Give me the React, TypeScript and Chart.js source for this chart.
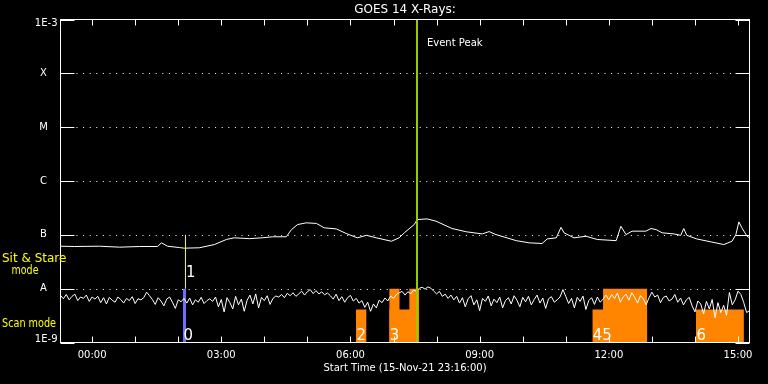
import { useEffect, useRef } from "react";
import { Chart, registerables } from "chart.js";

Chart.register(...registerables);

// ---------- text ----------
const TITLE = "GOES 14 X-Rays:";
const X_TITLE = "Start Time (15-Nov-21 23:16:00)";
const PEAK_LABEL = "Event Peak";
const MODE_UPPER = ["Sit & Stare", "mode"];
const MODE_LOWER = "Scan mode";

// ---------- axes (hours relative to 16-Nov 00:00) ----------
const X_MIN = -44 / 60; // 23:16
const X_MAX = 15 + 16 / 60; // 15:16
const X_LABEL_HOURS = [0, 3, 6, 9, 12, 15];
const X_LABELS = ["00:00", "03:00", "06:00", "09:00", "12:00", "15:00"];
const X_MINOR_HOURS = [0, 1, 2, 3, 4, 5, 6, 7, 8, 9, 10, 11, 12, 13, 14, 15];
const Y_MIN = 1e-9;
const Y_MAX = 1e-3;
const Y_TICK_VALUES = [1e-3, 1e-4, 1e-5, 1e-6, 1e-7, 1e-8, 1e-9];
const Y_TICK_LABELS = ["1E-3", "X", "M", "C", "B", "A", "1E-9"];
const Y_GRID_VALUES = [1e-4, 1e-5, 1e-6, 1e-7, 1e-8];

// ---------- long channel (1-8 A) ----------
const UPPER_T = [-0.733, -0.41, 0.17, 0.64, 1.1, 1.52, 1.61, 1.75, 2.03, 2.14, 2.49, 2.84, 3.12, 3.3, 3.65, 3.95, 4.19, 4.51, 4.63, 4.77, 4.97, 5.21, 5.39, 5.67, 5.9, 6.16, 6.37, 6.6, 6.95, 7.13, 7.25, 7.48, 7.55, 7.78, 7.99, 8.36, 8.69, 9.06, 9.22, 9.38, 9.85, 10.15, 10.45, 10.57, 10.78, 10.89, 10.96, 11.19, 11.47, 11.73, 12.17, 12.28, 12.4, 12.54, 12.86, 12.98, 13.1, 13.24, 13.51, 13.67, 13.74, 13.81, 14.04, 14.37, 14.67, 14.86, 14.95, 15.02, 15.09, 15.21, 15.27];
const UPPER_FLUX = [6.15e-8, 6.07e-8, 6.15e-8, 5.9e-8, 6.07e-8, 6.07e-8, 7.1e-8, 6.15e-8, 5.8e-8, 5.65e-8, 5.75e-8, 6.6e-8, 8.2e-8, 8.8e-8, 8.5e-8, 8.8e-8, 9.2e-8, 9.2e-8, 1.25e-7, 1.55e-7, 1.67e-7, 1.63e-7, 1.35e-7, 1.29e-7, 1.06e-7, 8.8e-8, 9.8e-8, 8.8e-8, 7.6e-8, 8.8e-8, 1.09e-7, 1.55e-7, 1.92e-7, 1.98e-7, 1.79e-7, 1.31e-7, 1.14e-7, 1.04e-7, 1.15e-7, 1.01e-7, 7.8e-8, 7.1e-8, 6.9e-8, 8.4e-8, 8.8e-8, 1.38e-7, 1.09e-7, 8.8e-8, 9.4e-8, 8.2e-8, 7.8e-8, 1.44e-7, 1.01e-7, 1.17e-7, 1.17e-7, 1.31e-7, 1.25e-7, 1.09e-7, 1.04e-7, 9.8e-8, 1.31e-7, 9.8e-8, 8.4e-8, 7.4e-8, 6.6e-8, 7.6e-8, 1.01e-7, 1.74e-7, 1.35e-7, 9.4e-8, 8.8e-8];

// ---------- short channel (0.5-4 A), 4-minute samples, units of 1e-9 W/m^2 ----------
const LOW_START_HOUR = -44 / 60;
const LOW_STEP_MIN = 4;
const LOW_FLUX_E9 = [
  7.5, 6.5, 7.8, 6.2, 7.2, 7.9, 6.0, 7.0, 6.6, 7.6, 5.8, 7.0,
  6.4, 7.2, 5.5, 6.8, 5.2, 6.9, 6.1, 5.6, 7.0, 6.3, 5.4, 6.6, 6.0, 7.1, 5.3, 6.5, 6.2,
  6.8, 8.6, 7.4,
  6.3, 5.1, 6.8, 5.9, 4.8, 6.4, 7.0, 5.6, 4.3, 6.2, 5.7, 6.6,
  5.4, 6.7, 5.0, 6.2, 5.6, 6.9, 5.3, 6.0, 6.5, 5.8,
  7.0, 4.6, 6.3, 3.7, 6.8, 5.5, 4.2, 7.2, 5.0, 6.4, 3.8, 6.1,
  7.6, 5.2, 8.0, 4.4, 6.9, 6.0, 7.4, 5.1, 6.6, 7.3,
  7.0, 7.8, 6.8, 8.2, 7.4, 8.4, 7.2, 8.0, 9.0, 7.6, 8.8, 9.6, 8.1, 9.2, 8.0, 8.7, 7.7, 8.3,
  7.4, 6.4, 7.9, 6.0, 7.1, 5.6, 6.8, 7.5, 5.9, 6.6, 5.4,
  6.0, 4.5, 5.6, 3.8, 5.2, 4.4, 6.1,
  5.5, 6.7, 5.9, 7.3, 6.6, 7.8, 8.4, 8.9,
  7.6, 8.8, 8.0, 9.4, 9.0,
  10.2, 10.6, 9.8, 10.8, 10.2,
  9.0, 8.0, 8.9, 7.2, 7.9, 6.6, 7.6, 6.2,
  7.2, 5.4, 6.8, 4.6, 6.5, 7.4, 5.0, 6.2, 3.9, 6.6, 5.8, 7.3, 4.8, 6.4, 5.5, 7.0, 4.4, 6.0,
  6.8, 5.2, 7.4, 6.1, 4.6, 6.9, 5.7, 7.2, 5.0, 6.3, 7.6, 5.4, 6.7, 4.3, 6.5, 7.1, 5.6, 6.2, 7.0, 9.6,
  7.2, 5.3, 6.6, 4.4, 6.9, 5.8, 7.3, 4.1, 6.0, 6.8, 5.1, 7.0, 5.6, 6.4, 7.6,
  6.2, 7.8, 6.6, 8.3, 5.6, 7.0, 7.9, 6.1, 8.4, 6.9, 5.4, 7.4, 6.5, 5.0, 6.8,
  8.6, 7.0, 7.6, 5.5, 6.9, 7.3, 5.9, 6.4, 7.8, 5.6, 6.7, 5.0, 6.2, 6.9, 4.8, 3.7, 5.9,
  5.2, 3.4, 5.8, 4.2, 6.3, 2.9, 5.5, 3.6, 4.9, 3.2,
  8.5, 5.0, 6.2,
  9.0, 7.8,
  5.5, 3.6, 3.9,
];

// ---------- observation boxes (scan mode, drawn up from 1E-9) ----------
const BOX_START = [2.111, 6.128, 6.9, 11.617, 14.023, 6.9, 7.364, 11.865];
const BOX_END = [2.181, 6.374, 7.596, 12.893, 15.137, 7.144, 7.596, 12.893];
const BOX_TOP = [1e-8, 4.1e-9, 4.1e-9, 4.1e-9, 4.1e-9, 1e-8, 1e-8, 1e-8];
const BOX_COLOR = ["#6e6eff", "#ff8400", "#ff8400", "#ff8400", "#ff8400", "#ff8400", "#ff8400", "#ff8400"];

// sit & stare marker
const SS_T = [2.169];
const SS_LOW = 1e-8;
const SS_HIGH = 1e-7;

// observation numbers
const OBS_LABELS = ["0", "1", "2", "3", "45", "6"];
const OBS_LABEL_T = [2.111, 2.169, 6.128, 6.9, 11.617, 14.023];
const OBS_LABEL_Y = [1.1e-9, 1.65e-8, 1.1e-9, 1.1e-9, 1.1e-9, 1.1e-9];

// event peak
const PEAK_T = 7.545;

const FONT = "'DejaVu Sans', sans-serif";

export default function App() {
  const ref = useRef<HTMLCanvasElement | null>(null);

  useEffect(() => {
    document.body.style.margin = "0";
    document.body.style.background = "#000";
    const canvas = ref.current;
    if (!canvas) return;

    const upper = UPPER_T.map((t, i) => ({ x: t, y: UPPER_FLUX[i] }));
    const lower = LOW_FLUX_E9.map((v, i) => ({ x: LOW_START_HOUR + (i * LOW_STEP_MIN) / 60, y: v * 1e-9 }));

    const datasets: any[] = [];
    datasets.push({
      data: [{ x: PEAK_T, y: Y_MIN }, { x: PEAK_T, y: Y_MAX }],
      borderColor: "#99cc00",
      borderWidth: 2,
      pointRadius: 0,
      fill: false,
      order: 0,
    });
    SS_T.forEach((t) =>
      datasets.push({
        data: [{ x: t, y: SS_LOW }, { x: t, y: SS_HIGH }],
        borderColor: "#ffff00",
        borderWidth: 1,
        pointRadius: 0,
        fill: false,
        order: 1,
      })
    );
    datasets.push({ data: upper, borderColor: "#ffffff", borderWidth: 1, pointRadius: 0, fill: false, order: 2 });
    datasets.push({ data: lower, borderColor: "#ffffff", borderWidth: 1, pointRadius: 0, fill: false, order: 3 });
    BOX_START.forEach((s, i) =>
      datasets.push({
        data: [{ x: s, y: BOX_TOP[i] }, { x: BOX_END[i], y: BOX_TOP[i] }],
        borderWidth: 0,
        borderColor: "rgba(0,0,0,0)",
        backgroundColor: BOX_COLOR[i],
        pointRadius: 0,
        fill: "start",
        order: 10 + i,
      })
    );

    const idlPlugin = {
      id: "idl",
      beforeDraw(chart: any) {
        const c = chart.ctx;
        c.save();
        c.fillStyle = "#000";
        c.fillRect(0, 0, chart.width, chart.height);
        c.restore();
      },
      beforeDatasetsDraw(chart: any) {
        const c = chart.ctx;
        const { left, right } = chart.chartArea;
        const y = chart.scales.y;
        c.save();
        c.strokeStyle = "#ffffff";
        c.lineWidth = 1;
        c.setLineDash([1, 5.6]);
        Y_GRID_VALUES.forEach((v) => {
          const py = Math.round(y.getPixelForValue(v)) + 0.5;
          c.beginPath();
          c.moveTo(left + 16, py);
          c.lineTo(right - 14, py);
          c.stroke();
        });
        c.restore();
      },
      afterDatasetsDraw(chart: any) {
        const c = chart.ctx;
        const { left, right, top, bottom } = chart.chartArea;
        const xs = chart.scales.x;
        const ys = chart.scales.y;
        c.save();
        c.strokeStyle = "#ffffff";
        c.lineWidth = 1;
        c.setLineDash([]);
        c.strokeRect(left, top, right - left, bottom - top);
        // y ticks
        Y_TICK_VALUES.forEach((v) => {
          const py = Math.round(ys.getPixelForValue(v)) + 0.5;
          c.beginPath();
          c.moveTo(left, py);
          c.lineTo(left + 14, py);
          c.moveTo(right, py);
          c.lineTo(right - 14, py);
          c.stroke();
        });
        // x ticks
        X_MINOR_HOURS.forEach((h) => {
          const px = Math.round(xs.getPixelForValue(h)) + 0.5;
          c.beginPath();
          c.moveTo(px, bottom);
          c.lineTo(px, bottom - 6);
          c.moveTo(px, top);
          c.lineTo(px, top + 6);
          c.stroke();
        });
        // text
        c.fillStyle = "#ffffff";
        c.textBaseline = "middle";
        c.font = `10px ${FONT}`;
        c.textAlign = "center";
        X_LABEL_HOURS.forEach((h, i) => {
          c.fillText(X_LABELS[i], xs.getPixelForValue(h), bottom + 13);
        });
        c.fillText(X_TITLE, (left + right) / 2, bottom + 26);
        // y labels
        Y_TICK_VALUES.forEach((v, i) => {
          let py = ys.getPixelForValue(v);
          if (i === 0) py += 4;
          if (i === Y_TICK_VALUES.length - 1) py -= 3;
          const lab = Y_TICK_LABELS[i];
          if (lab.length > 1) {
            c.textAlign = "right";
            c.fillText(lab, left - 3, py);
          } else {
            c.textAlign = "center";
            c.fillText(lab, left - 17, py);
          }
        });
        // title
        c.font = `12px ${FONT}`;
        c.textAlign = "center";
        c.fillText(TITLE, (left + right) / 2, top - 10);
        // event peak
        c.font = `10px ${FONT}`;
        c.textAlign = "left";
        c.fillText(PEAK_LABEL, xs.getPixelForValue(PEAK_T) + 10, top + 24);
        // mode labels
        c.fillStyle = "#ffff00";
        c.font = `12px ${FONT}`;
        c.fillText(MODE_UPPER[0], 2, 259, 65);
        c.textAlign = "center";
        c.fillText(MODE_UPPER[1], 25, 271, 27);
        c.textAlign = "left";
        c.fillText(MODE_LOWER, 2, 323.5, 54);
        // observation numbers
        c.fillStyle = "#ffffff";
        c.font = `16px ${FONT}`;
        c.textBaseline = "alphabetic";
        OBS_LABELS.forEach((lab, i) => {
          c.fillText(lab, xs.getPixelForValue(OBS_LABEL_T[i]) + 0.5, ys.getPixelForValue(OBS_LABEL_Y[i]), 9.5 * lab.length);
        });
        c.restore();
      },
    };

    const chart = new Chart(canvas, {
      type: "line",
      data: { datasets },
      options: {
        animation: false,
        responsive: false,
        events: [],
        layout: { padding: { left: 60.5, top: 19.5, right: 18.5, bottom: 41.5 } },
        plugins: { legend: { display: false }, tooltip: { enabled: false }, title: { display: false } },
        elements: { line: { tension: 0 } },
        scales: {
          x: { type: "linear", min: X_MIN, max: X_MAX, display: false },
          y: { type: "logarithmic", min: Y_MIN, max: Y_MAX, display: false },
        },
      },
      plugins: [idlPlugin],
    });
    return () => chart.destroy();
  }, []);

  return (
    <div style={{ position: "fixed", left: 0, top: 0, width: 768, height: 384, background: "#000" }}>
      <canvas ref={ref} width={768} height={384} style={{ display: "block", width: 768, height: 384 }} />
    </div>
  );
}
